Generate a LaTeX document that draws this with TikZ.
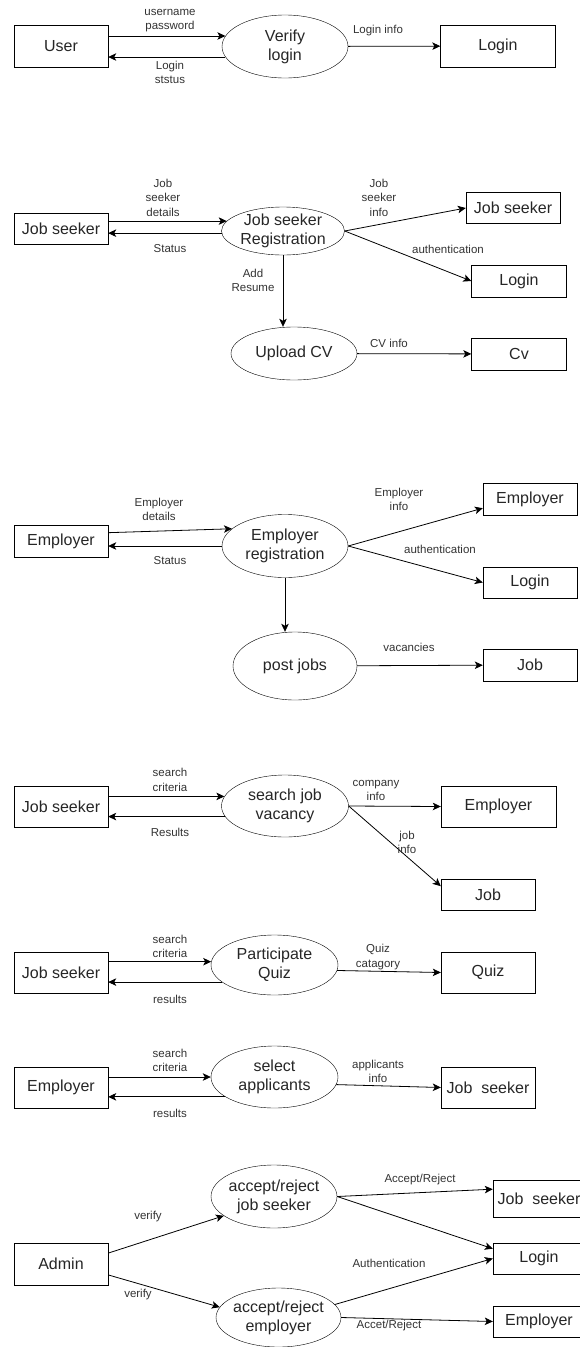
\documentclass[tikz,border=0pt]{standalone}
\usepackage{fontspec}
\setmainfont{Liberation Sans}
\usetikzlibrary{shapes.geometric,arrows.meta}

\begin{document}
\begin{tikzpicture}[x=1pt,y=-1pt,
  store/.style={draw,rectangle,inner sep=2pt,text=black!85,font=\fontsize{16}{19}\selectfont},
  proc/.style={draw,ellipse,inner sep=-4pt,align=center,text=black!85,font=\fontsize{16}{19}\selectfont},
  flow/.style={draw,line width=0.8pt,-{Stealth[length=8pt,width=7.5pt,inset=2pt]}},
  note/.style={align=center,text=black!80,font=\fontsize{11.5}{14.5}\selectfont}]
  \useasboundingbox (0,0) rectangle (580,1347);
  \clip (0,0) rectangle (580,1347);

  \node[store,minimum width=94,minimum height=42] (usr) at (61,46) {User};
  \node[proc,minimum width=126,minimum height=63] (vl) at (285,46.5) {Verify\\login};
  \node[store,minimum width=115,minimum height=42] (lg1) at (498,46) {Login};
  \draw[flow] (usr.east |- vl.170) -- (vl.170);
  \draw[flow] (vl.190) -- (usr.east |- vl.190);
  \draw[flow] (vl) -- (lg1);
  \node[note] (n1) at (170,20.5) {username\\password};
  \node[note] (n2) at (170,72.5) {Login\\ststus};
  \node[note] (n3) at (378,31) {Login info};

  \node[store,minimum width=94,minimum height=31] (js1) at (61,228.5) {Job seeker};
  \node[proc,minimum width=123,minimum height=48] (jsr) at (283,231) {Job seeker\\Registration};
  \node[store,minimum width=94,minimum height=31] (js2) at (513,208) {Job seeker};
  \node[store,minimum width=95,minimum height=32] (lg2) at (519,281) {Login};
  \node[proc,minimum width=126,minimum height=53] (upcv) at (294,353.5) {Upload CV};
  \node[store,minimum width=95,minimum height=32] (cv) at (519,354) {Cv};
  \draw[flow] (js1.east |- jsr.170) -- (jsr.170);
  \draw[flow] (jsr.182) -- (js1.east |- jsr.182);
  \draw[flow] (jsr.east) -- (js2.west);
  \draw[flow] (jsr.east) -- (lg2.west);
  \draw[flow] (jsr.south) -- (jsr.south |- upcv.north);
  \draw[flow] (upcv) -- (cv);
  \node[note] (n4) at (163,197.5) {Job\\seeker\\details};
  \node[note] (n5) at (170,249) {Status};
  \node[note] (n6) at (379,197.5) {Job\\seeker\\info};
  \node[note] (n7) at (448,249) {authentication};
  \node[note] (n8) at (253,280.5) {Add\\Resume};
  \node[note] (n9) at (389,343) {CV info};

  \node[store,minimum width=94,minimum height=32] (emp1) at (61,541) {Employer};
  \node[proc,minimum width=126,minimum height=63] (ereg) at (285,546) {Employer\\registration};
  \node[store,minimum width=94,minimum height=32] (emp2) at (530,499) {Employer};
  \node[store,minimum width=94,minimum height=31] (lg3) at (530,582.5) {Login};
  \node[proc,minimum width=124,minimum height=68] (pj) at (295,666) {post jobs};
  \node[store,minimum width=94,minimum height=32] (job1) at (530,665) {Job};
  \draw[flow] (emp1.10) -- (ereg.162);
  \draw[flow] (ereg.west) -- (emp1.east |- ereg.west);
  \draw[flow] (ereg.east) -- (emp2.191);
  \draw[flow] (ereg.east) -- (lg3.west);
  \draw[flow] (ereg.south) -- (ereg.south |- pj.north);
  \draw[flow] (pj) -- (job1);
  \node[note] (n10) at (159,509.5) {Employer\\details};
  \node[note] (n11) at (170,561) {Status};
  \node[note] (n12) at (399,499.5) {Employer\\info};
  \node[note] (n13) at (440,549) {authentication};
  \node[note] (n14) at (409,647) {vacancies};

  \node[store,minimum width=94,minimum height=41] (js3) at (61,806.5) {Job seeker};
  \node[proc,minimum width=127,minimum height=62] (sjv) at (285,806) {search job\\vacancy};
  \node[store,minimum width=115,minimum height=41] (emp3) at (498.5,806.5) {Employer};
  \node[store,minimum width=94,minimum height=31] (job2) at (488,894.5) {Job};
  \draw[flow] (js3.east |- sjv.171) -- (sjv.171);
  \draw[flow] (sjv.190) -- (js3.east |- sjv.190);
  \draw[flow] (sjv.east) -- (emp3.west);
  \draw[flow] (sjv.east) -- (job2.170);
  \node[note] (n15) at (170,780) {search\\criteria};
  \node[note] (n16) at (170,832) {Results};
  \node[note] (n17) at (376,790.5) {company\\info};
  \node[note] (n18) at (407,842.5) {job\\info};

  \node[store,minimum width=94,minimum height=41] (js4) at (61,972.5) {Job seeker};
  \node[proc,minimum width=127,minimum height=60] (pq) at (274.5,965) {Participate\\Quiz};
  \node[store,minimum width=94,minimum height=41] (quiz) at (488,972.5) {Quiz};
  \draw[flow] (js4.east |- pq.177) -- (pq.177);
  \draw[flow] (pq.198) -- (js4.east |- pq.198);
  \draw[flow] (pq.355) -- (quiz.west);
  \node[note] (n19) at (170,946.5) {search\\criteria};
  \node[note] (n20) at (170,999) {results};
  \node[note] (n21) at (378,957) {Quiz\\catagory};

  \node[store,minimum width=94,minimum height=41] (emp4) at (61,1087.5) {Employer};
  \node[proc,minimum width=127,minimum height=62] (sa) at (274.5,1077) {select\\applicants};
  \node[store,minimum width=94,minimum height=41] (js5) at (488,1087.5) {Job\ \ seeker};
  \draw[flow] (emp4.east |- sa.west) -- (sa.west);
  \draw[flow] (sa.202) -- (emp4.east |- sa.202);
  \draw[flow] (sa.353) -- (js5.west);
  \node[note] (n22) at (170,1060.5) {search\\criteria};
  \node[note] (n23) at (170,1113) {results};
  \node[note] (n24) at (378,1071.5) {applicants\\info};

  \node[store,minimum width=94,minimum height=42] (adm) at (61,1264) {Admin};
  \node[proc,minimum width=126,minimum height=63] (arjs) at (274,1196.5) {accept/reject\\job seeker};
  \node[proc,minimum width=125,minimum height=59] (are) at (278.5,1317.5) {accept/reject\\employer};
  \node[store,minimum width=92,minimum height=37] (js6) at (539,1199) {Job\ \ seeker};
  \node[store,minimum width=92,minimum height=31] (lg4) at (539,1258.5) {Login};
  \node[store,minimum width=92,minimum height=31] (emp5) at (539,1321.5) {Employer};
  \draw[flow] (adm.13) -- (arjs.201);
  \draw[flow] (adm.347) -- (are.170);
  \draw[flow] (arjs.east) -- (js6.168);
  \draw[flow] (arjs.east) -- (lg4.168);
  \draw[flow] (are.13) -- (lg4.west);
  \draw[flow] (are.east) -- (emp5.west);
  \node[note] (n25) at (148,1217) {verify};
  \node[note] (n26) at (138,1295) {verify};
  \node[note] (n27) at (420,1180) {Accept/Reject};
  \node[note] (n28) at (389,1263) {Authentication};
  \node[note] (n29) at (389,1326) {Accet/Reject};
\end{tikzpicture}
\end{document}
